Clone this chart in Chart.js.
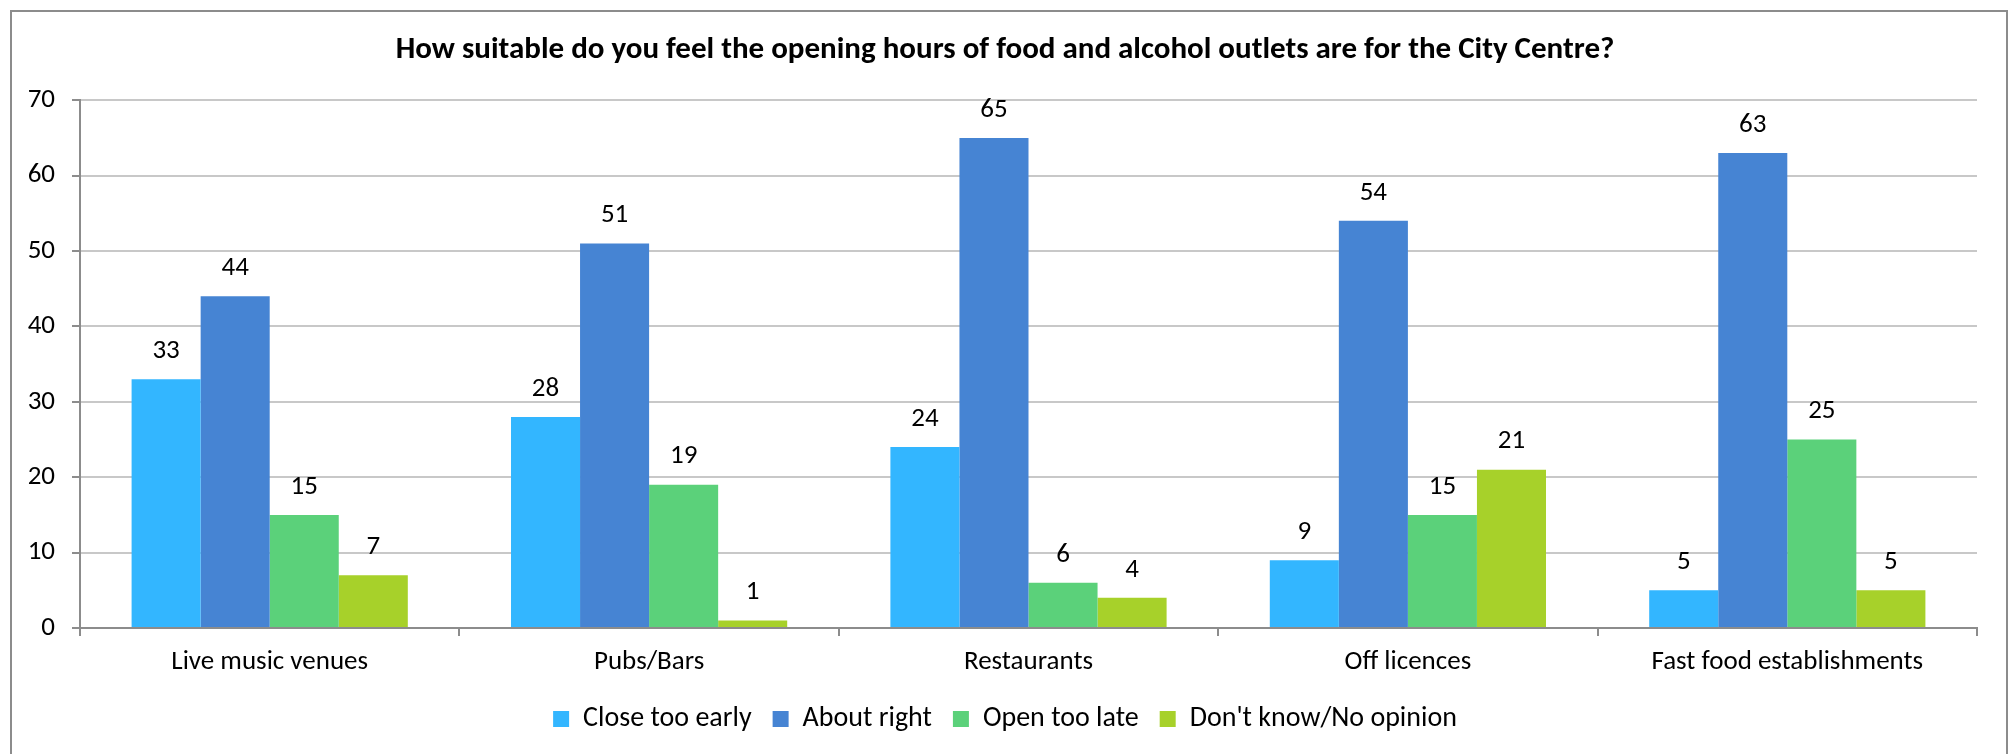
<!DOCTYPE html>
<html>
<head>
<meta charset="utf-8">
<script src="https://cdn.jsdelivr.net/npm/chart.js@4"></script>
<style>
    html, body { margin: 0; padding: 0; background: #fff; }
    #frame {
        position: absolute; left: 10px; top: 10px;
        width: 1994px; height: 800px;
        border: 2px solid #8c8c8c;
    }
    #chart { position: absolute; left: 0; top: 0; }
</style>
</head>
<body>
<div id="frame"></div>
<canvas id="chart" width="2010" height="754"></canvas>
<script>
// ── Data ──────────────────────────────────────────────────────────────────────
const categories = ["Live music venues", "Pubs/Bars", "Restaurants", "Off licences", "Fast food establishments"];
const closeTooEarly = [33, 28, 24, 9, 5];
const aboutRight = [44, 51, 65, 54, 63];
const openTooLate = [15, 19, 6, 15, 25];
const dontKnow = [7, 1, 4, 21, 5];
const yTicks = [0, 10, 20, 30, 40, 50, 60, 70];

const FONT = "Carlito, Lato, sans-serif";
const GRID = "#c8c8c8";
const AXIS = "#8c8c8c";

// values drawn above each bar
const barLabels = {
    id: "barLabels",
    afterDatasetsDraw(chart) {
        const ctx = chart.ctx;
        ctx.save();
        ctx.font = `27px ${FONT}`;
        ctx.fillStyle = "#000";
        ctx.textAlign = "center";
        ctx.textBaseline = "middle";
        chart.data.datasets.forEach((ds, i) => {
            chart.getDatasetMeta(i).data.forEach((bar, j) => {
                ctx.fillText(String(ds.data[j]), bar.x, bar.y - 28);
            });
        });
        ctx.restore();
    }
};

// centre title and legend on the whole canvas, not on the padded box
const centreBlocks = {
    id: "centreBlocks",
    afterLayout(chart) {
        for (const box of [chart.titleBlock, chart.legend]) {
            if (!box) continue;
            box.left = 0;
            box.right = chart.width;
        }
    }
};

new Chart(document.getElementById("chart"), {
    type: "bar",
    data: {
        labels: categories,
        datasets: [
            { label: "Close too early", data: closeTooEarly, backgroundColor: "#33b6ff" },
            { label: "About right", data: aboutRight, backgroundColor: "#4684d3" },
            { label: "Open too late", data: openTooLate, backgroundColor: "#5bd17a" },
            { label: "Don't know/No opinion", data: dontKnow, backgroundColor: "#a7d12a" },
        ]
    },
    options: {
        responsive: false,
        devicePixelRatio: 1,
        animation: false,
        datasets: { bar: { categoryPercentage: 0.728, barPercentage: 1.0 } },
        layout: { padding: { left: 0, right: 33, top: 0, bottom: 11 } },
        plugins: {
            title: {
                display: true,
                text: "How suitable do you feel the opening hours of food and alcohol outlets are for the City Centre?",
                color: "#000",
                font: { family: FONT, size: 31, weight: "bold" },
                padding: { top: 32, bottom: 31 }
            },
            legend: {
                position: "bottom",
                labels: {
                    color: "#000",
                    font: { family: FONT, size: 28 },
                    boxWidth: 16,
                    boxHeight: 16,
                    padding: 21
                }
            },
            tooltip: { enabled: false }
        },
        scales: {
            x: {
                grid: { drawOnChartArea: false, drawTicks: true, tickLength: 8, color: AXIS, lineWidth: 2 },
                border: { color: AXIS, width: 2 },
                ticks: { color: "#000", font: { family: FONT, size: 27 }, padding: 10, maxRotation: 0 },
                afterFit(scale) { scale.height = 56; }
            },
            y: {
                min: 0,
                max: 70,
                afterBuildTicks(scale) { scale.ticks = yTicks.map(v => ({ value: v })); },
                grid: { color: GRID, lineWidth: 2, tickColor: AXIS, tickLength: 8 },
                border: { color: AXIS, width: 2 },
                ticks: { color: "#000", font: { family: FONT, size: 27 }, padding: 17 },
                afterFit(scale) { scale.width = 80; }
            }
        }
    },
    plugins: [barLabels, centreBlocks]
});
</script>
</body>
</html>
